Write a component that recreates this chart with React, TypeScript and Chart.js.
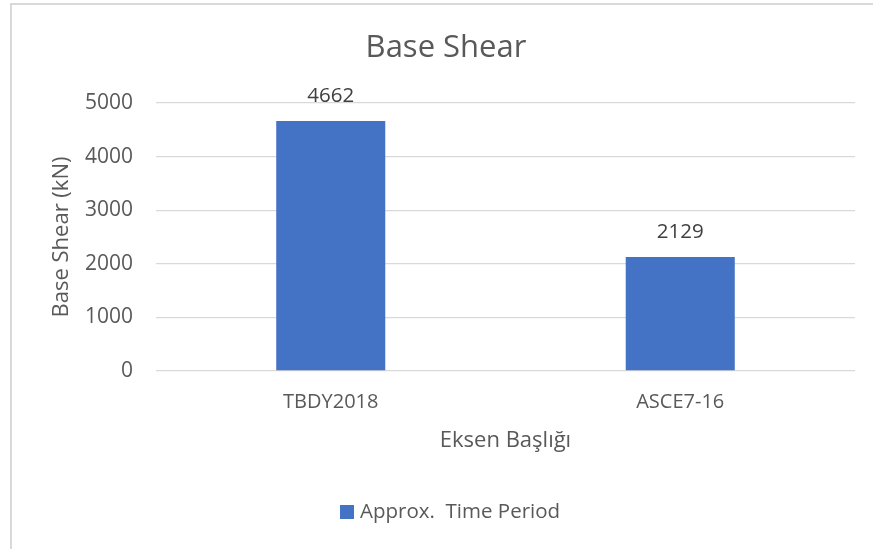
import React, { useEffect, useRef } from "react";
import { Chart, registerables } from "chart.js";

Chart.register(...registerables);

const categories = ["TBDY2018", "ASCE7-16"];
const baseShear = [4662, 2129];
const seriesName = "Approx.  Time Period";
const chartTitle = "Base Shear";
const yTitle = "Base Shear (kN)";
const xTitle = "Eksen Başlığı";

const FONT = "'Open Sans', 'DejaVu Sans', sans-serif";
const TEXT = "#595959";
const BAR = "#4472C4";

const dataLabels = {
  id: "dataLabels",
  afterDatasetsDraw(chart: any) {
    const ctx = chart.ctx;
    ctx.save();
    ctx.font = `20.5px ${FONT}`;
    ctx.fillStyle = "#404040";
    ctx.textAlign = "center";
    ctx.textBaseline = "middle";
    chart.data.datasets.forEach((ds: any, i: number) => {
      const meta = chart.getDatasetMeta(i);
      meta.data.forEach((bar: any, j: number) => {
        ctx.fillText(String(ds.data[j]), bar.x, bar.y - 25);
      });
    });
    ctx.restore();
  },
};

const titleAndLegend = {
  id: "titleAndLegend",
  afterDraw(chart: any) {
    const ctx = chart.ctx;
    ctx.save();
    // title
    ctx.font = `31px ${FONT}`;
    ctx.fillStyle = TEXT;
    ctx.textAlign = "center";
    ctx.textBaseline = "middle";
    ctx.fillText(chartTitle, 446, 48);
    // legend
    const ds = chart.data.datasets[0];
    ctx.fillStyle = ds.backgroundColor;
    ctx.fillRect(340, 505, 14, 14);
    ctx.font = `20.5px ${FONT}`;
    ctx.fillStyle = TEXT;
    ctx.textAlign = "left";
    ctx.fillText(ds.label, 360, 512);
    ctx.restore();
  },
};

export default function App() {
  const ref = useRef<HTMLCanvasElement | null>(null);
  useEffect(() => {
    if (!ref.current) return;
    const chart = new Chart(ref.current, {
      type: "bar",
      data: {
        labels: categories,
        datasets: [
          {
            label: seriesName,
            data: baseShear,
            backgroundColor: BAR,
            borderWidth: 0,
            barPercentage: 0.312,
            categoryPercentage: 1,
          },
        ],
      },
      options: {
        animation: false,
        responsive: false,
        maintainAspectRatio: false,
        layout: { padding: { left: 0, right: 18, top: 103, bottom: 0 } },
        plugins: {
          title: { display: false },
          legend: { display: false },
          tooltip: { enabled: false },
        },
        scales: {
          x: {
            grid: { display: false, drawTicks: false },
            border: { display: false },
            ticks: {
              color: TEXT,
              font: { family: FONT, size: 20 },
              padding: 19,
            },
            title: {
              display: true,
              text: xTitle,
              color: TEXT,
              font: { family: FONT, size: 22 },
              padding: { top: 0, bottom: 95 },
            },
            afterFit(scale: any) {
              scale.height = 178;
            },
          },
          y: {
            min: 0,
            max: 5000,
            ticks: {
              stepSize: 1000,
              color: TEXT,
              font: { family: FONT, size: 21 },
              padding: 23,
              callback: (v: any) => String(v),
            },
            grid: { color: "#d9d9d9", lineWidth: 1.3, drawTicks: false },
            border: { display: false },
            title: {
              display: true,
              text: yTitle,
              color: TEXT,
              font: { family: FONT, size: 22 },
              padding: { top: 49, bottom: 0 },
            },
            afterFit(scale: any) {
              scale.width = 156;
            },
          },
        },
      },
      plugins: [dataLabels, titleAndLegend],
    });
    return () => chart.destroy();
  }, []);

  return (
    <div style={{ position: "fixed", left: 0, top: 0, width: 873, height: 549, background: "#fff" }}>
      <div
        style={{
          position: "absolute",
          left: 10,
          top: 3,
          right: 0,
          bottom: 0,
          borderLeft: "2px solid #d9d9d9",
          borderTop: "2px solid #d9d9d9",
        }}
      />
      <canvas ref={ref} width={873} height={549} style={{ position: "absolute", left: 0, top: 0 }} />
    </div>
  );
}
